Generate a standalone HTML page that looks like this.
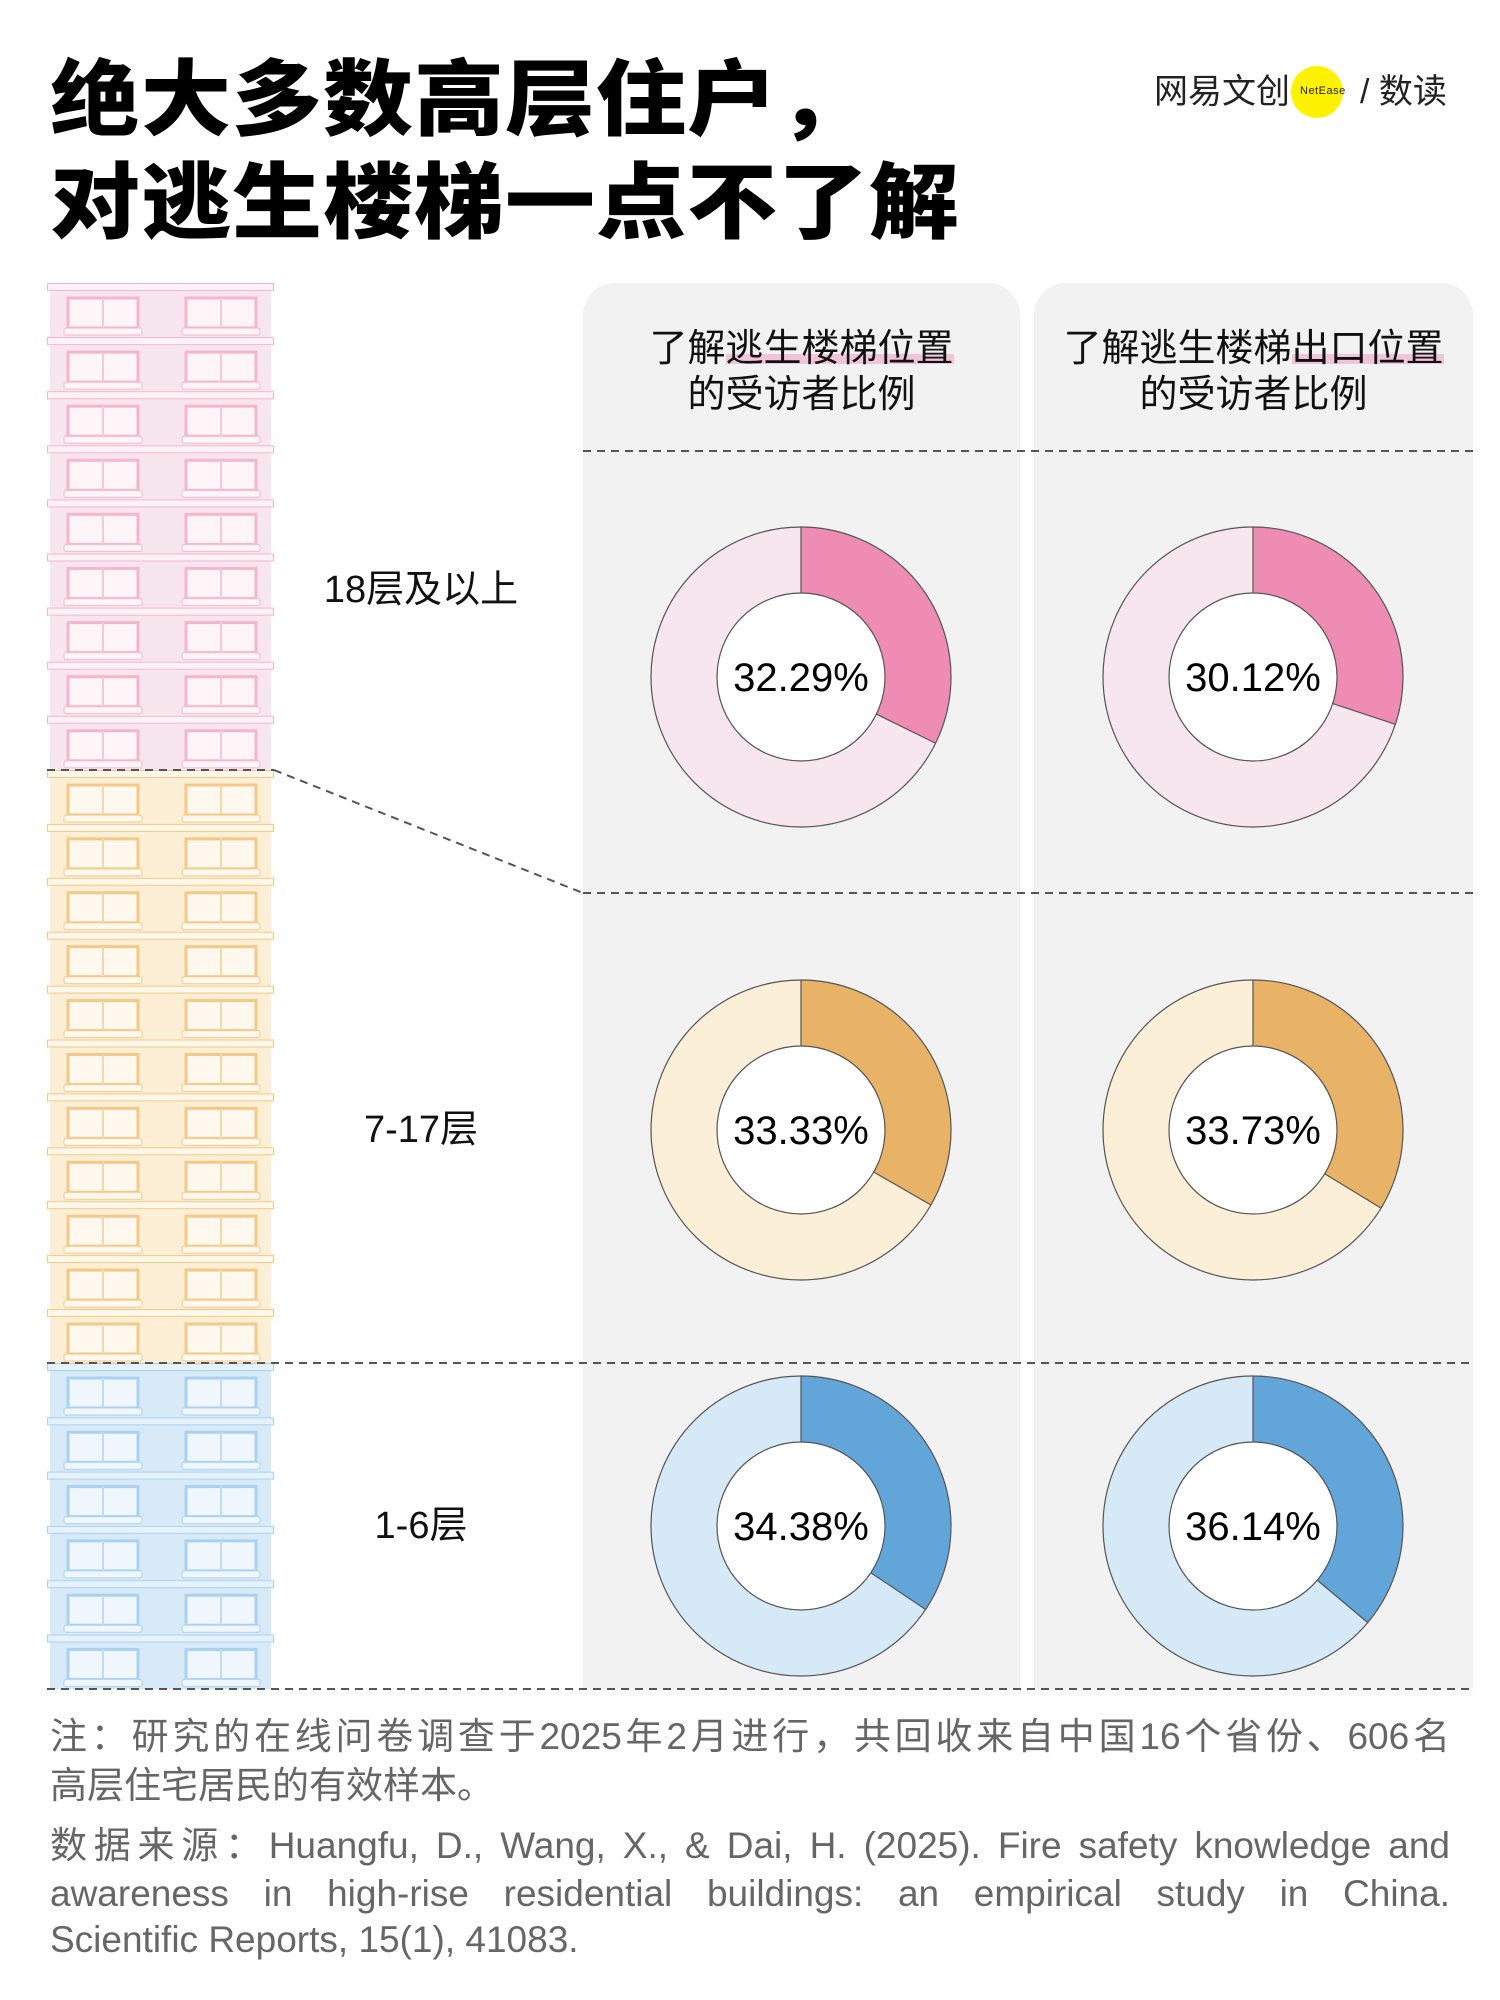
<!DOCTYPE html>
<html><head><meta charset="utf-8"><style>
body{margin:0;background:#fff;}
#w{position:relative;width:1500px;height:2000px;overflow:hidden;font-family:"Liberation Sans","Noto Sans CJK SC",sans-serif;}
.t{position:absolute;left:50px;font-size:90px;font-weight:900;letter-spacing:1px;line-height:100px;color:#000;transform:scaleY(0.92);transform-origin:0 50%;white-space:nowrap;}
.lbl{position:absolute;font-size:38px;color:#111;width:300px;text-align:center;line-height:40px;}
.hd{position:absolute;font-size:38px;color:#111;text-align:center;line-height:46px;}
.hl{background:linear-gradient(to bottom,transparent 62%,#f0c6d6 62%,#f0c6d6 86%,transparent 86%);}
.n{position:absolute;left:50px;width:1400px;font-size:37px;color:#666;line-height:40px;white-space:nowrap;}
.j{text-align:justify;text-align-last:justify;}
</style></head><body><div id="w">
<div class="t" style="top:51px">绝大多数高层住户，</div>
<div class="t" style="top:154px">对逃生楼梯一点不了解</div>

<div style="position:absolute;left:1154px;top:72px;font-size:34px;color:#222;line-height:40px">网易文创</div>
<div style="position:absolute;left:1291px;top:66px;width:52px;height:52px;border-radius:50%;background:#fff200"></div>
<div style="position:absolute;left:1300px;top:85px;font-size:11px;color:#222;letter-spacing:0.5px">NetEase</div>
<div style="position:absolute;left:1360px;top:72px;font-size:34px;color:#222;line-height:40px">/ 数读</div>

<svg style="position:absolute;left:0;top:0" width="1500" height="2000">
<defs>
<pattern id="pp" patternUnits="userSpaceOnUse" x="0" y="283" width="1500" height="54.1">
<rect x="50" y="0" width="221" height="54.1" fill="#f8e6ee"/>
<rect x="47.5" y="0.5" width="226" height="7" fill="#fdf3f7" stroke="#f5b6cc"/>
<rect x="68" y="15" width="70" height="30" fill="#fdf5f8" stroke="#f5b6cc" stroke-width="3"/><line x1="103" y1="15" x2="103" y2="45" stroke="#f8c8d8" stroke-width="2"/>
<rect x="186" y="15" width="70" height="30" fill="#fdf5f8" stroke="#f5b6cc" stroke-width="3"/><line x1="221" y1="15" x2="221" y2="45" stroke="#f8c8d8" stroke-width="2"/>
<rect x="64" y="45" width="78" height="7" rx="2" fill="#fdf5f8" stroke="#f5b6cc"/><rect x="182" y="45" width="78" height="7" rx="2" fill="#fdf5f8" stroke="#f5b6cc"/>
</pattern>
<pattern id="po" patternUnits="userSpaceOnUse" x="0" y="770" width="1500" height="53.9">
<rect x="50" y="0" width="221" height="53.9" fill="#fdefd6"/>
<rect x="47.5" y="0.5" width="226" height="7" fill="#fef7ea" stroke="#f3c987"/>
<rect x="68" y="15" width="70" height="30" fill="#fef8ee" stroke="#f3c987" stroke-width="3"/><line x1="103" y1="15" x2="103" y2="45" stroke="#f6d7a8" stroke-width="2"/>
<rect x="186" y="15" width="70" height="30" fill="#fef8ee" stroke="#f3c987" stroke-width="3"/><line x1="221" y1="15" x2="221" y2="45" stroke="#f6d7a8" stroke-width="2"/>
<rect x="64" y="45" width="78" height="7" rx="2" fill="#fef8ee" stroke="#f3c987"/><rect x="182" y="45" width="78" height="7" rx="2" fill="#fef8ee" stroke="#f3c987"/>
</pattern>
<pattern id="pb" patternUnits="userSpaceOnUse" x="0" y="1363" width="1500" height="54.3">
<rect x="50" y="0" width="221" height="54.3" fill="#d8eaf8"/>
<rect x="47.5" y="0.5" width="226" height="7" fill="#e6f2fb" stroke="#a9d2f0"/>
<rect x="68" y="15" width="70" height="30" fill="#eff7fd" stroke="#a9d2f0" stroke-width="3"/><line x1="103" y1="15" x2="103" y2="45" stroke="#bfdcf3" stroke-width="2"/>
<rect x="186" y="15" width="70" height="30" fill="#eff7fd" stroke="#a9d2f0" stroke-width="3"/><line x1="221" y1="15" x2="221" y2="45" stroke="#bfdcf3" stroke-width="2"/>
<rect x="64" y="45" width="78" height="7" rx="2" fill="#eff7fd" stroke="#a9d2f0"/><rect x="182" y="45" width="78" height="7" rx="2" fill="#eff7fd" stroke="#a9d2f0"/>
</pattern>
</defs>
<rect x="583" y="283" width="437" height="1406" rx="32" fill="#f2f2f2"/>
<rect x="583" y="640" width="437" height="1049" fill="#f2f2f2"/>
<rect x="1034" y="283" width="439" height="1406" rx="32" fill="#f2f2f2"/>
<rect x="1034" y="640" width="439" height="1049" fill="#f2f2f2"/>
<rect x="0" y="283" width="1500" height="487" fill="url(#pp)"/>
<rect x="0" y="770" width="1500" height="593" fill="url(#po)"/>
<rect x="0" y="1363" width="1500" height="326" fill="url(#pb)"/>
<rect x="274" y="283" width="309" height="1406" fill="#fff"/>
<g stroke="#555" stroke-width="2" stroke-dasharray="8 6" fill="none">
<line x1="583" y1="451" x2="1473" y2="451"/>
<line x1="47" y1="770" x2="274" y2="770"/>
<line x1="274" y1="770" x2="583" y2="893"/>
<line x1="583" y1="893" x2="1473" y2="893"/>
<line x1="47" y1="1363" x2="1473" y2="1363"/>
<line x1="47" y1="1689" x2="1473" y2="1689"/>
</g>
<g font-family="Liberation Sans, sans-serif" font-size="40" text-anchor="middle">
<g transform="translate(801,677)"><circle r="117" fill="none" stroke="#f8e6ee" stroke-width="66"/><circle r="117" fill="none" stroke="#ee8cb4" stroke-width="66" stroke-dasharray="237.4 800" transform="rotate(-90)"/><circle r="150" fill="none" stroke="#555" stroke-width="1.2"/><circle r="84" fill="#fff" stroke="#555" stroke-width="1.2"/><line x1="0" y1="-84" x2="0" y2="-150" stroke="#555" stroke-width="1.2"/><line x1="0" y1="-84" x2="0" y2="-150" stroke="#555" stroke-width="1.2" transform="rotate(116.2)"/><text y="14">32.29%</text></g>
<g transform="translate(1253,677)"><circle r="117" fill="none" stroke="#f8e6ee" stroke-width="66"/><circle r="117" fill="none" stroke="#ee8cb4" stroke-width="66" stroke-dasharray="221.4 800" transform="rotate(-90)"/><circle r="150" fill="none" stroke="#555" stroke-width="1.2"/><circle r="84" fill="#fff" stroke="#555" stroke-width="1.2"/><line x1="0" y1="-84" x2="0" y2="-150" stroke="#555" stroke-width="1.2"/><line x1="0" y1="-84" x2="0" y2="-150" stroke="#555" stroke-width="1.2" transform="rotate(108.4)"/><text y="14">30.12%</text></g>
<g transform="translate(801,1130)"><circle r="117" fill="none" stroke="#fcefd7" stroke-width="66"/><circle r="117" fill="none" stroke="#e8b366" stroke-width="66" stroke-dasharray="245.0 800" transform="rotate(-90)"/><circle r="150" fill="none" stroke="#555" stroke-width="1.2"/><circle r="84" fill="#fff" stroke="#555" stroke-width="1.2"/><line x1="0" y1="-84" x2="0" y2="-150" stroke="#555" stroke-width="1.2"/><line x1="0" y1="-84" x2="0" y2="-150" stroke="#555" stroke-width="1.2" transform="rotate(120)"/><text y="14">33.33%</text></g>
<g transform="translate(1253,1130)"><circle r="117" fill="none" stroke="#fcefd7" stroke-width="66"/><circle r="117" fill="none" stroke="#e8b366" stroke-width="66" stroke-dasharray="248.0 800" transform="rotate(-90)"/><circle r="150" fill="none" stroke="#555" stroke-width="1.2"/><circle r="84" fill="#fff" stroke="#555" stroke-width="1.2"/><line x1="0" y1="-84" x2="0" y2="-150" stroke="#555" stroke-width="1.2"/><line x1="0" y1="-84" x2="0" y2="-150" stroke="#555" stroke-width="1.2" transform="rotate(121.4)"/><text y="14">33.73%</text></g>
<g transform="translate(801,1526)"><circle r="117" fill="none" stroke="#d6e9f7" stroke-width="66"/><circle r="117" fill="none" stroke="#62a5d9" stroke-width="66" stroke-dasharray="252.7 800" transform="rotate(-90)"/><circle r="150" fill="none" stroke="#555" stroke-width="1.2"/><circle r="84" fill="#fff" stroke="#555" stroke-width="1.2"/><line x1="0" y1="-84" x2="0" y2="-150" stroke="#555" stroke-width="1.2"/><line x1="0" y1="-84" x2="0" y2="-150" stroke="#555" stroke-width="1.2" transform="rotate(123.8)"/><text y="14">34.38%</text></g>
<g transform="translate(1253,1526)"><circle r="117" fill="none" stroke="#d6e9f7" stroke-width="66"/><circle r="117" fill="none" stroke="#62a5d9" stroke-width="66" stroke-dasharray="265.7 800" transform="rotate(-90)"/><circle r="150" fill="none" stroke="#555" stroke-width="1.2"/><circle r="84" fill="#fff" stroke="#555" stroke-width="1.2"/><line x1="0" y1="-84" x2="0" y2="-150" stroke="#555" stroke-width="1.2"/><line x1="0" y1="-84" x2="0" y2="-150" stroke="#555" stroke-width="1.2" transform="rotate(130.1)"/><text y="14">36.14%</text></g>
</g>
</svg>

<div class="hd" style="left:583px;top:326px;width:437px">了解<span class="hl">逃生楼梯位置</span><br>的受访者比例</div>
<div class="hd" style="left:1034px;top:326px;width:439px">了解逃生楼梯<span class="hl">出口位置</span><br>的受访者比例</div>

<div class="lbl" style="left:271px;top:570px">18层及以上</div>
<div class="lbl" style="left:271px;top:1110px">7-17层</div>
<div class="lbl" style="left:271px;top:1506px">1-6层</div>

<div class="n j" style="top:1717px">注：研究的在线问卷调查于2025年2月进行，共回收来自中国16个省份、606名</div>
<div class="n" style="top:1766px">高层住宅居民的有效样本。</div>
<div class="n j" style="top:1826px">数据来源：Huangfu, D., Wang, X., &amp; Dai, H. (2025). Fire safety knowledge and</div>
<div class="n j" style="top:1874px">awareness in high-rise residential buildings: an empirical study in China.</div>
<div class="n" style="top:1920px">Scientific Reports, 15(1), 41083.</div>
</div></body></html>
